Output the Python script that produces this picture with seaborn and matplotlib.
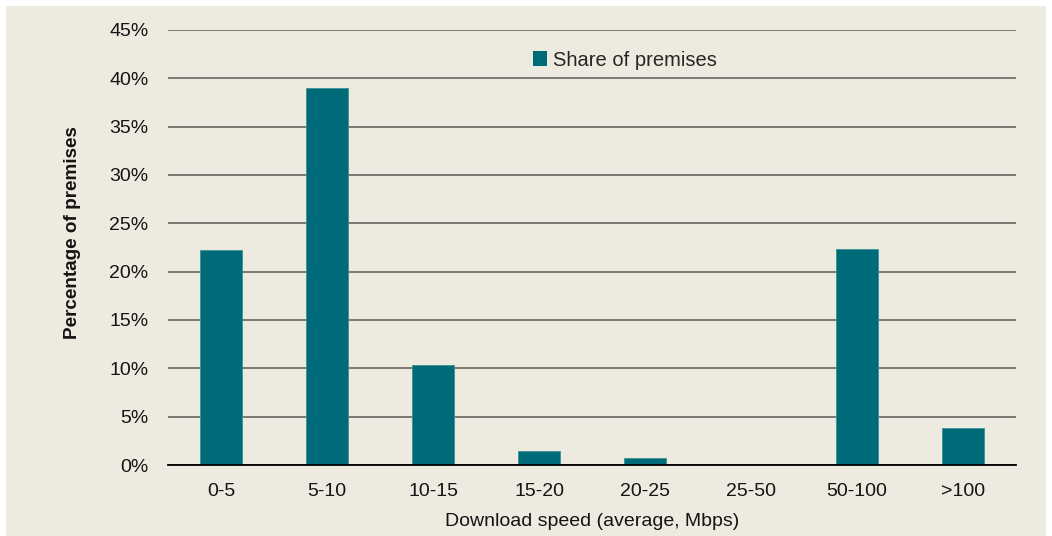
import matplotlib
matplotlib.use("Agg")
import matplotlib.pyplot as plt
import seaborn as sns
import pandas as pd
from matplotlib.patches import Patch, Rectangle
from matplotlib.ticker import FuncFormatter, MultipleLocator

speed_bands = ["0-5", "5-10", "10-15", "15-20", "20-25", "25-50", "50-100", ">100"]
share_of_premises = [22.2, 39.0, 10.3, 1.5, 0.7, 0.0, 22.3, 3.8]

BG = "#EDEAE0"
TEAL = "#006B78"
INK = "#141414"

sns.set_theme(style="white")
plt.rcParams["font.family"] = ["Liberation Sans", "DejaVu Sans"]

df = pd.DataFrame({"band": speed_bands, "share": share_of_premises})

fig = plt.figure(figsize=(10.52, 5.36), dpi=100, facecolor="white")
# beige panel behind the chart
panel = Rectangle((6 / 1052, 0), (1046 - 6) / 1052, (536 - 6) / 536,
                  transform=fig.transFigure, facecolor=BG, edgecolor="none")
panel.set_zorder(-10)
fig.add_artist(panel)

ax = fig.add_axes([168 / 1052, 71 / 536, (1016 - 168) / 1052, (465 - 30) / 536])
ax.set_facecolor(BG)

sns.barplot(data=df, x="band", y="share", color=TEAL, width=0.4, ax=ax,
            saturation=1, edgecolor="#3d8f99", linewidth=0.6, zorder=3)

ax.set_ylim(0, 45)
ax.yaxis.set_major_locator(MultipleLocator(5))
ax.yaxis.set_major_formatter(FuncFormatter(lambda v, _: f"{v:.0f}%"))
ax.grid(axis="y", color="#5a5a55", linewidth=1.1, zorder=0)
ax.set_axisbelow(True)
for s in ["top", "right", "left"]:
    ax.spines[s].set_visible(False)
ax.spines["bottom"].set_color("black")
ax.spines["bottom"].set_linewidth(1.3)
ax.spines["bottom"].set_zorder(4)

ax.tick_params(axis="both", length=0, labelsize=14, colors=INK)
ax.tick_params(axis="y", pad=14)
ax.tick_params(axis="x", pad=13)

ax.set_xlabel("Download speed (average, Mbps)", fontsize=14, color=INK)
ax.xaxis.label.set_va("center")
ax.xaxis.set_label_coords(0.5, -0.131)
ax.set_ylabel("Percentage of premises", fontsize=13.6, fontweight="bold", color=INK)
ax.yaxis.label.set_va("center")
ax.yaxis.set_label_coords(-0.113, 0.535)

ax.legend(handles=[Patch(facecolor=TEAL, edgecolor="none", label="Share of premises")],
          loc="center", bbox_to_anchor=(0.539, 0.931), frameon=False,
          fontsize=14.5, handlelength=0.7, handleheight=0.7, handletextpad=0.3)

fig.savefig("out.png", dpi=100, facecolor="white")
